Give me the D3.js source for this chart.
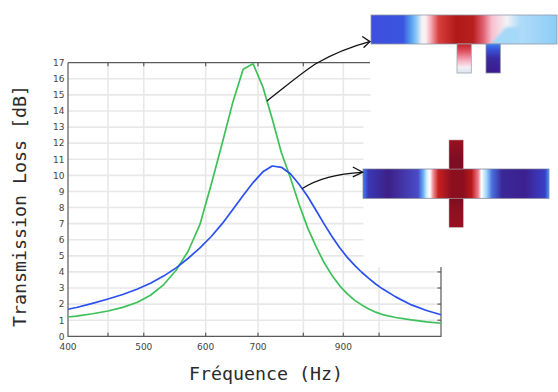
<!DOCTYPE html>
<html><head><meta charset="utf-8">
<script src="https://cdn.jsdelivr.net/npm/d3@7"></script>
<style>html,body{margin:0;padding:0;background:#fff}svg{display:block}</style>
</head><body><svg id="c" width="558" height="392"></svg>
<script>
const yTicks = d3.range(0, 18);
const xTicks = [400, 450, 500, 600, 700, 800, 900, 1000, 1200];
const xLabels = [400, 500, 600, 700, 900];
const xTitle = "Fréquence (Hz)";
const yTitle = "Transmission Loss [dB]";

const freqs = [400,410,430,450,470,490,510,530,550,570,590,610,630,650,670,690,710,730,750,770,790,810,830,850,870,890,910,930,950,970,990,1010,1050,1100,1150,1200];
const lossGreen = [1.2,1.25,1.4,1.57,1.8,2.1,2.55,3.2,4.1,5.3,6.95,9.45,12.0,14.55,16.6,16.93,15.5,13.5,11.4,9.85,8.2,6.75,5.6,4.6,3.8,3.15,2.65,2.25,1.95,1.7,1.5,1.35,1.17,1.02,0.9,0.81];
const lossBlue = [1.68,1.79,2.05,2.32,2.6,2.92,3.3,3.74,4.25,4.85,5.5,6.2,7.0,7.88,8.75,9.55,10.22,10.58,10.5,10.1,9.45,8.7,7.85,7.0,6.22,5.52,4.92,4.42,3.98,3.6,3.25,2.95,2.45,1.95,1.6,1.34];

const bar1Offsets = [0,.52,.66,.76,.82,.88,.95,1.09,1.38,1.65,1.81,1.95,2.19,2.4,3];
const bar1Colors = ["#3f4fdc","#3a55e0","#5aa8f0","#a8d4f6","#f4f2f6","#fdf0f2","#f8b8c0","#d84040","#b01818","#b82020","#e06070","#f8c0d0","#f4f2f4","#b0dcf8","#8ccdf8"];
const bar2Offsets = [0,.086,.41,.89,.97,1.03,1.08,1.13,1.215,1.43,1.62,1.75,1.86,1.91,1.99,2.08,2.24,2.61,2.94,3];
const bar2Colors = ["#3f80f8","#3a38b4","#3c2088","#4a4cc8","#60b0f8","#d8eefb","#fff","#f09098","#c82020","#8c0f20","#8c0f20","#b81818","#f08090","#fff","#a0d8f8","#4a70e0","#3a2898","#3c2090","#3a40c8","#40a0ff"];

const svg = d3.select("#c");
const L = 68, R = 441, T = 62.7, B = 336.3;
const x = d3.scaleLog().domain([400, 1200]).range([L, R]);
const y = d3.scaleLinear().domain([0, 17]).range([B, T]);
const defs = svg.append("defs");
defs.append("filter").attr("id","soft").append("feGaussianBlur").attr("stdDeviation",0.5);
defs.append("filter").attr("id","soft2").append("feGaussianBlur").attr("stdDeviation",1.8);

const grid = svg.append("g").attr("filter","url(#soft)");
grid.selectAll(".h").data(yTicks.filter(d=>d>0&&d<17)).join("line")
  .attr("x1",L).attr("x2",R).attr("y1",y).attr("y2",y).attr("stroke","#e8e8e8").attr("stroke-width",1.6);
grid.selectAll(".v").data(xTicks.slice(1,-1)).join("line")
  .attr("y1",T).attr("y2",B).attr("x1",x).attr("x2",x).attr("stroke","#e8e8e8").attr("stroke-width",1.6);

// white panels behind the two insets
svg.append("rect").attr("x",370.5).attr("y",0).attr("width",190).attr("height",118).attr("fill","#fff");
svg.append("rect").attr("x",363.5).attr("y",118).attr("width",200).attr("height",149).attr("fill","#fff");

const axisC = "#5a5a5a";
const ax = svg.append("g").attr("fill","none").attr("stroke",axisC).attr("stroke-width",1.2);
ax.append("path").attr("d",`M${L},${T}V${B}H${R}V267`);
ax.append("path").attr("d",`M${L},${T}H370`);
ax.selectAll(".b").data(xTicks.slice(1,-1)).join("line").attr("x1",x).attr("x2",x).attr("y1",B).attr("y2",B-3.5);
ax.selectAll(".t").data(xTicks.slice(1,4).concat([700,800])).join("line").attr("x1",x).attr("x2",x).attr("y1",T).attr("y2",T+3.5);
ax.selectAll(".r").data([1,2,3,4]).join("line").attr("x1",R).attr("x2",R-3.5).attr("y1",y).attr("y2",y);

const tickStyle = s => s.attr("font-family","DejaVu Sans").attr("font-size",9).attr("fill","#444");
svg.append("g").call(tickStyle).selectAll("text").data(yTicks).join("text")
  .attr("x",L-3.5).attr("y",d=>y(d)+3.3).attr("text-anchor","end").text(d=>d);
svg.append("g").call(tickStyle).selectAll("text").data(xLabels).join("text")
  .attr("x",x).attr("y",350).attr("text-anchor","middle").text(d=>d);

const line = d3.line().x(d=>x(d[0])).y(d=>y(d[1]));
svg.append("path").datum(d3.zip(freqs,lossGreen)).attr("d",line).attr("fill","none").attr("stroke","#3cc158").attr("stroke-width",1.7).attr("stroke-linejoin","round");
svg.append("path").datum(d3.zip(freqs,lossBlue)).attr("d",line).attr("fill","none").attr("stroke","#2a50f0").attr("stroke-width",1.7).attr("stroke-linejoin","round");

const titleStyle = s => s.attr("font-family","DejaVu Sans Mono").attr("font-size",18.3).attr("fill","#2a2a2a");
svg.append("text").call(titleStyle).attr("x",266).attr("y",380).attr("text-anchor","middle").text(xTitle);
svg.append("text").call(titleStyle).attr("text-anchor","middle").attr("transform","translate(26,206) rotate(-90)").text(yTitle);

function grad(id, offs, cols, horizontal) {
  const g = defs.append("linearGradient").attr("id",id).attr("x1",0).attr("y1",0)
    .attr("x2",horizontal?1:0).attr("y2",horizontal?0:1);
  const max = d3.max(offs);
  g.selectAll("stop").data(offs).join("stop").attr("offset",d=>d/max).attr("stop-color",(d,i)=>cols[i]);
}
grad("bar1",bar1Offsets,bar1Colors,true);
grad("bar2",bar2Offsets,bar2Colors,true);
grad("stubA",[0,.25,.6,.8,1],["#c02028","#e05060","#f8b8c8","#f4eef4","#d8e8f4"],false);
grad("stubB",[0,.2,.5,1],["#3a80f0","#3a50d8","#3a2aa0","#3a1a8c"],false);
grad("stubC",[0,.7,1],["#9a1020","#7e0c22","#7e0c22"],false);
grad("stubD",[0,.3,1],["#7e0c22","#8c0f20","#9a1020"],false);

const g1 = svg.append("g");
defs.append("clipPath").attr("id","clip1").append("rect").attr("x",371).attr("y",15).attr("width",186).attr("height",29);
g1.append("rect").attr("x",371).attr("y",15).attr("width",186).attr("height",29).attr("fill","url(#bar1)");
g1.append("g").attr("clip-path","url(#clip1)").append("path").attr("d","M487,48 L506,27 L520,27 L520,48 Z").attr("fill","#a6d8f8").attr("filter","url(#soft2)");
g1.append("rect").attr("x",371).attr("y",15).attr("width",186).attr("height",29).attr("fill","none").attr("stroke","#8f9aa8").attr("stroke-width",.8);
g1.append("rect").attr("x",457).attr("y",44).attr("width",14.3).attr("height",29).attr("fill","url(#stubA)").attr("stroke","#a0a4aa").attr("stroke-width",.8);
g1.append("rect").attr("x",486).attr("y",44).attr("width",14.3).attr("height",29).attr("fill","url(#stubB)").attr("stroke","#8f90a8").attr("stroke-width",.8);

const g2 = svg.append("g");
g2.append("rect").attr("x",363).attr("y",169).attr("width",186).attr("height",29.3).attr("fill","url(#bar2)");
g2.append("rect").attr("x",363).attr("y",169).attr("width",186).attr("height",29.3).attr("fill","none").attr("stroke","#7a7a90").attr("stroke-width",.7);
g2.append("rect").attr("x",449).attr("y",140).attr("width",14.3).attr("height",29).attr("fill","url(#stubC)").attr("stroke","#b8a8aa").attr("stroke-width",.5);
g2.append("rect").attr("x",449).attr("y",198.3).attr("width",14.3).attr("height",29).attr("fill","url(#stubD)").attr("stroke","#b8a8aa").attr("stroke-width",.5);

const ar = svg.append("g").attr("fill","none").attr("stroke","#111").attr("stroke-width",1.3).attr("stroke-linecap","round");
ar.append("path").attr("d","M267.3,100.7 C290,83 304,71 316.7,63.3 C333,54 350,47 369.5,41.7");
ar.append("path").attr("d","M362.7,36.7 L370,41.7 L364,47.3");
ar.append("path").attr("d","M302.7,188.3 C314,181 330,174 362,172.3");
ar.append("path").attr("d","M353.3,167.3 L362.7,172.3 L353.3,176.7");
</script></body></html>
